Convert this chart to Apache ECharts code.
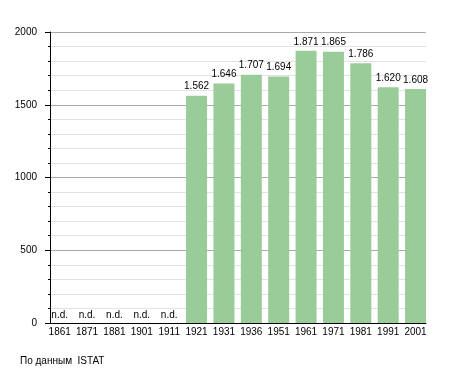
<!DOCTYPE html>
<html><head><meta charset="utf-8">
<script src="https://cdn.jsdelivr.net/npm/echarts@6/dist/echarts.min.js"></script>
<style>html,body{margin:0;padding:0;background:#fff}#c{width:455px;height:373px}</style>
</head><body><div id="c"></div>
<script>
const years = ['1861','1871','1881','1901','1911','1921','1931','1936','1951','1961','1971','1981','1991','2001'];
const population = [null,null,null,null,null,1562,1646,1707,1694,1871,1865,1786,1620,1608];
const yTicks = [0,500,1000,1500,2000];
const footer = 'По данным\u00a0\u00a0ISTAT';

const font = 'Liberation Sans, Arial, sans-serif';
const fmt = v => String(v).replace(/\B(?=(\d{3})+(?!\d))/g, '.');
const barData = population.map(v => v == null ? {value: 0, label: {formatter: 'n.d.', distance: 3}} : v);

const chart = echarts.init(document.getElementById('c'), null, {renderer: 'canvas'});
chart.setOption({
  animation: false,
  backgroundColor: '#fff',
  textStyle: {fontFamily: font},
  title: {text: footer, left: 20, top: 356, padding: 0, textStyle: {fontSize: 10, fontWeight: 'normal', color: '#000', fontFamily: font}},
  grid: [
    {left: 46, right: 25.75, top: 32, bottom: 50},
    {left: 50, right: 29, top: 32, bottom: 50}
  ],
  xAxis: [
    {gridIndex: 0, type: 'category', data: years,
     axisLine: {show: false}, axisTick: {show: false},
     axisLabel: {color: '#000', fontSize: 10, margin: 4, fontFamily: font, interval: 0}},
    {gridIndex: 1, type: 'value', min: 0, max: 1,
     axisLine: {show: true, lineStyle: {color: '#000', width: 1}},
     axisTick: {show: false}, axisLabel: {show: false}, splitLine: {show: false}}
  ],
  yAxis: [
    {gridIndex: 0, type: 'value', min: 0, max: 2000, show: false},
    {gridIndex: 1, type: 'value', min: yTicks[0], max: yTicks[yTicks.length-1], interval: 500,
     axisLine: {show: true, lineStyle: {color: '#000', width: 1}},
     axisTick: {show: true, length: 5, lineStyle: {color: '#000'}},
     minorTick: {show: true, splitNumber: 5, length: 2, lineStyle: {color: '#000'}},
     axisLabel: {color: '#000', fontSize: 10, margin: 13, fontFamily: font, formatter: v => String(v)},
     splitLine: {show: true, lineStyle: {color: '#aaaaaa', width: 1}},
     minorSplitLine: {show: true, lineStyle: {color: '#e2e2e2', width: 1}}}
  ],
  series: [{
    type: 'bar', xAxisIndex: 0, yAxisIndex: 0,
    data: barData, barWidth: 21,
    itemStyle: {color: '#99cc99'},
    label: {show: true, position: 'top', distance: 4, color: '#000', fontSize: 10, fontFamily: font,
            formatter: p => fmt(p.value)}
  }]
});
</script></body></html>
